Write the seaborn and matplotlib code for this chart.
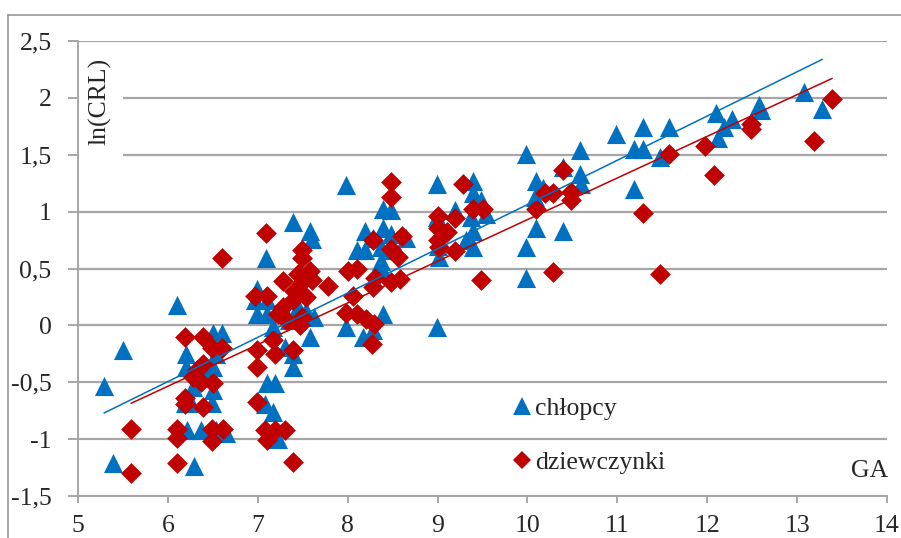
import matplotlib
matplotlib.use("Agg")
import matplotlib.pyplot as plt
from matplotlib.lines import Line2D
from matplotlib.patches import Rectangle
import numpy as np
import pandas as pd
import seaborn as sns

# Gestational age (weeks) and ln(CRL) for boys
boys_ga = [5.29, 5.50, 5.39, 6.10, 6.20, 6.20, 6.29, 6.50, 6.60, 6.54, 6.50, 6.28,
           6.50, 6.19, 6.26, 6.49, 6.21, 6.37, 6.54, 6.65, 6.42, 6.55,
           6.99, 6.97, 6.99, 7.10, 7.10, 7.09, 7.17, 7.10, 7.19, 7.08, 7.17, 7.23,
           7.39, 7.58, 7.60, 7.45, 7.54, 7.62, 7.58, 7.30, 7.39, 7.39, 7.35,
           7.98, 7.98, 8.17, 8.28, 8.39, 8.39, 8.48, 8.19, 8.39, 8.28, 8.48, 8.65,
           8.10, 8.19, 8.37, 8.47, 8.37, 8.39,
           8.99, 8.99, 9.02, 9.00, 8.99, 9.39, 9.39, 9.37, 9.39, 9.39, 9.48, 9.54,
           9.19, 9.32, 9.98, 10.10, 10.17, 10.08, 10.10, 9.98, 9.98, 10.39, 10.58,
           10.58, 10.60, 10.39, 10.98, 11.28, 11.58, 11.19, 11.28, 11.48, 11.19,
           12.10, 12.28, 12.19, 12.12, 12.58, 12.60, 13.08, 13.28]
boys_lncrl = [-0.53, -0.22, -1.21, 0.18, -0.25, -0.37, -1.24, -0.07, -0.07, -0.25, -0.37, -0.54,
              -0.57, -0.68, -0.68, -0.68, -0.92, -0.92, -0.92, -0.95, -0.45, -0.15,
              0.32, 0.22, 0.10, 0.10, 0.22, 0.59, -0.01, -0.51, -0.51, -0.69, -0.76, -1.00,
              0.91, 0.83, 0.76, 0.16, 0.13, 0.07, -0.10, -0.19, -0.25, -0.37, 0.05,
              1.23, -0.01, -0.10, -0.04, 0.10, 1.02, 1.01, 0.83, 0.86, 0.77, 0.80, 0.77,
              0.66, 0.66, 0.69, 0.66, 0.57, 0.48,
              1.24, 0.95, 0.60, 0.70, -0.01, 1.27, 1.16, 0.95, 0.83, 0.69, 1.10, 0.98,
              1.01, 0.75, 1.51, 1.27, 1.21, 1.13, 0.86, 0.69, 0.42, 1.39, 1.54,
              1.33, 1.24, 0.83, 1.68, 1.74, 1.74, 1.55, 1.55, 1.48, 1.20,
              1.87, 1.81, 1.74, 1.65, 1.94, 1.89, 2.05, 1.90]

# Gestational age (weeks) and ln(CRL) for girls
girls_ga = [5.59, 5.59, 6.10, 6.10, 6.10, 6.19, 6.39, 6.19, 6.19, 6.39, 6.49, 6.60,
            6.32, 6.39, 6.37, 6.50, 6.28, 6.49, 6.61, 6.49, 6.60,
            7.09, 7.49, 7.49, 7.28, 7.58, 7.78, 6.97, 7.10, 7.50, 7.39, 7.28, 7.54,
            7.49, 7.32, 7.47, 7.40, 7.45, 7.60, 7.22, 6.99, 6.99, 7.17, 7.19, 7.39,
            6.99, 7.08, 7.19, 7.30, 7.10, 7.39,
            8.48, 8.48, 8.60, 8.28, 8.48, 8.56, 8.00, 8.10, 8.30, 8.58, 8.28, 8.48,
            8.06, 7.98, 8.10, 8.20, 8.29, 8.27,
            9.00, 9.00, 9.00, 9.02, 9.10, 9.19, 9.19, 9.28, 9.39, 9.50, 9.48,
            10.10, 10.19, 10.28, 10.39, 10.48, 10.48, 10.28,
            11.58, 11.28, 11.48, 11.98, 12.08, 12.49, 12.49, 13.19, 13.39]
girls_lncrl = [-0.91, -1.30, -1.21, -0.91, -0.99, -0.10, -0.10, -0.64, -0.69, -0.72, -0.20, -0.20,
               -0.39, -0.34, -0.50, -0.51, -0.45, -0.91, -0.91, -1.02, 0.59,
               0.81, 0.66, 0.59, 0.39, 0.48, 0.35, 0.26, 0.26, 0.39, 0.22, 0.16, 0.25,
               0.07, 0.04, 0.00, 0.30, 0.45, 0.40, 0.10, -0.22, -0.37, -0.13, -0.25, -0.22,
               -0.67, -0.92, -0.92, -0.92, -1.01, -1.20,
               1.26, 1.13, 0.79, 0.75, 0.67, 0.60, 0.48, 0.50, 0.42, 0.41, 0.34, 0.38,
               0.26, 0.11, 0.10, 0.06, 0.01, -0.16,
               0.96, 0.86, 0.75, 0.69, 0.82, 0.94, 0.65, 1.24, 1.02, 1.02, 0.40,
               1.02, 1.16, 1.16, 1.37, 1.17, 1.10, 0.47,
               1.51, 0.99, 0.45, 1.58, 1.32, 1.77, 1.73, 1.62, 1.99]

series_names = ["chłopcy", "dziewczynki"]
x_ticks = [5, 6, 7, 8, 9, 10, 11, 12, 13, 14]
y_ticks = [-1.5, -1, -0.5, 0, 0.5, 1, 1.5, 2, 2.5]
y_tick_labels = ["-1,5", "-1", "-0,5", "0", "0,5", "1", "1,5", "2", "2,5"]

BLUE = "#0070C0"
RED = "#C00000"
GRID = "#A6A6A6"

df = pd.concat([
    pd.DataFrame({"GA": boys_ga, "lnCRL": boys_lncrl, "plec": series_names[0]}),
    pd.DataFrame({"GA": girls_ga, "lnCRL": girls_lncrl, "plec": series_names[1]}),
], ignore_index=True)

sns.set_theme(style="white")
plt.rcParams["font.family"] = ["Liberation Serif", "DejaVu Serif"]
plt.rcParams["font.size"] = 18.5

fig = plt.figure(figsize=(9.01, 5.38), dpi=100)
W, H = 901, 538
ax = fig.add_axes([78 / W, 1 - 496 / H, (887 - 78) / W, (496 - 41) / H])

boys = df[df["plec"] == series_names[0]]
girls = df[df["plec"] == series_names[1]]

sns.scatterplot(data=boys, x="GA", y="lnCRL", marker="^", s=190, color=BLUE,
                linewidth=0, ax=ax, zorder=3, legend=False)
sns.scatterplot(data=girls, x="GA", y="lnCRL", marker="D", s=112, color=RED,
                linewidth=0, ax=ax, zorder=4, legend=False)

# linear trend lines over the data range of each group
sns.regplot(data=boys, x="GA", y="lnCRL", scatter=False, ci=None, truncate=True,
            color=BLUE, line_kws={"lw": 1.1, "zorder": 5}, ax=ax)
sns.regplot(data=girls, x="GA", y="lnCRL", scatter=False, ci=None, truncate=True,
            color=RED, line_kws={"lw": 1.1, "zorder": 5}, ax=ax)

ax.set_xlim(5, 14)
ax.set_ylim(-1.5, 2.5)
ax.set_xticks(x_ticks)
ax.set_xticklabels([str(t) for t in x_ticks])
ax.set_yticks(y_ticks)
ax.set_yticklabels(y_tick_labels)
ax.set_xlabel("")
ax.set_ylabel("")

ax.set_axisbelow(True)
ax.yaxis.grid(True, color=GRID, lw=1.6)
ax.xaxis.grid(False)
for side in ["top", "right"]:
    ax.spines[side].set_visible(False)
for side in ["left", "bottom"]:
    ax.spines[side].set_color(GRID)
    ax.spines[side].set_linewidth(1.4)
ax.tick_params(axis="y", direction="out", length=7, width=1.4, color=GRID, pad=12,
               labelsize=18.5, left=True)
ax.tick_params(axis="x", direction="out", length=5, width=1.4, color=GRID, pad=9,
               labelsize=18.5, bottom=True)

# axis titles placed inside the plot area
ax.add_patch(Rectangle(((78 - 78) / 809, (496 - 160) / 455), 45 / 809, 110 / 455,
                       transform=ax.transAxes, facecolor="white", edgecolor="none",
                       zorder=1))
ax.text(22 / 809, (496 - 101) / 455, "ln(CRL)", transform=ax.transAxes, rotation=90,
        ha="center", va="center", fontsize=18.5, zorder=6)
fig.text(888 / W, 1 - 471 / H, "GA", ha="right", va="center", fontsize=18.5)

handles = [
    Line2D([], [], marker="^", color=BLUE, linestyle="none", markersize=13, markeredgewidth=0),
    Line2D([], [], marker="D", color=RED, linestyle="none", markersize=9.5, markeredgewidth=0),
]
ax.legend(handles, series_names, loc="upper left", bbox_to_anchor=(512 / W, 1 - 397 / H),
          bbox_transform=fig.transFigure, frameon=False, handlelength=0.8,
          handletextpad=0.1, labelspacing=1.2, borderpad=0, borderaxespad=0,
          fontsize=18.5)

# outer chart border
fig.add_artist(Line2D([8 / W, 1.0], [1 - 15 / H, 1 - 15 / H], transform=fig.transFigure,
                      color="#9A9A9A", lw=1.2))
fig.add_artist(Line2D([8 / W, 8 / W], [0.0, 1 - 15 / H], transform=fig.transFigure,
                      color="#9A9A9A", lw=1.2))

fig.savefig("out.png", dpi=100)
